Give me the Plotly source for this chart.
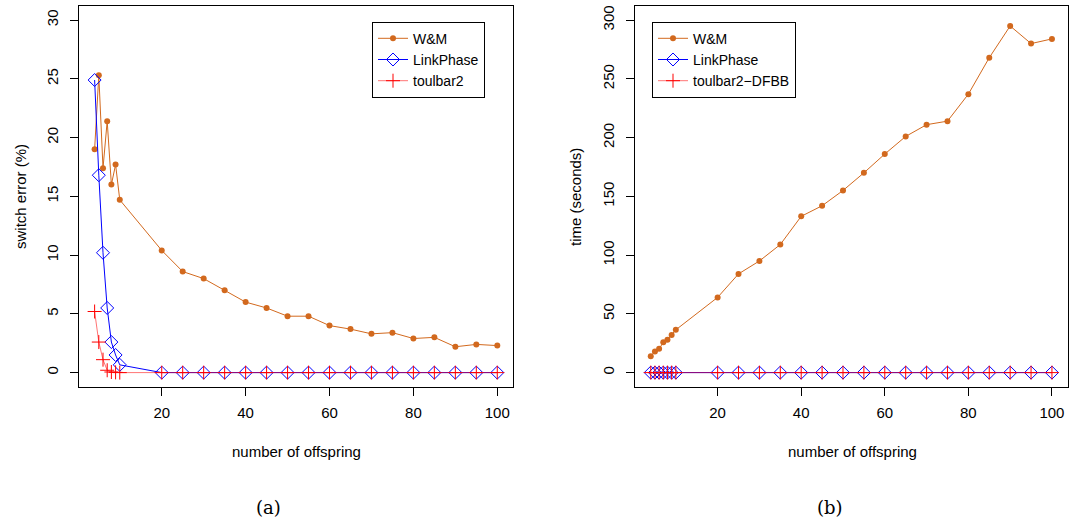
import plotly.graph_objects as go

offspring = [4, 5, 6, 7, 8, 9, 10, 20, 25, 30, 35, 40, 45, 50, 55, 60, 65, 70, 75, 80, 85, 90, 95, 100]

# (a) switch error (%)
err_wm = [19.0, 25.3, 17.4, 21.4, 16.0, 17.7, 14.7, 10.4, 8.6, 8.0, 7.0, 6.0, 5.5, 4.8, 4.8, 4.0, 3.7, 3.3, 3.4, 2.9, 3.0, 2.2, 2.4, 2.3]
err_lp = [24.9, 16.8, 10.2, 5.5, 2.6, 1.5, 0.66, 0, 0, 0, 0, 0, 0, 0, 0, 0, 0, 0, 0, 0, 0, 0, 0, 0]
err_tb = [5.2, 2.6, 1.1, 0.2, 0.05, 0.02, 0, 0, 0, 0, 0, 0, 0, 0, 0, 0, 0, 0, 0, 0, 0, 0, 0, 0]

# (b) time (seconds)
time_wm = [14.0, 18.0, 20.2, 25.8, 27.9, 32.1, 36.4, 64, 84, 95, 109, 133, 142, 155, 170, 186, 201, 211, 214, 237, 268, 295, 280, 284]
time_lp = [0] * len(offspring)
time_tb = [0] * len(offspring)

names_a = ["W&M", "LinkPhase", "toulbar2"]
names_b = ["W&M", "LinkPhase", "toulbar2\u2212DFBB"]

W, H = 1070, 523
ORANGE = "#D2691E"
BLUE = "#0000FF"
RED = "#FF0000"
FONT = "Liberation Sans, Arial, sans-serif"
FS = 15

fig = go.Figure()

def add_series(xa, ya, leg, names, wm, lp, tb):
    fig.add_trace(go.Scatter(x=offspring, y=wm, name=names[0], mode="lines+markers",
                             line=dict(color=ORANGE, width=1),
                             marker=dict(symbol="circle", size=6, color=ORANGE),
                             xaxis=xa, yaxis=ya, legend=leg))
    fig.add_trace(go.Scatter(x=offspring, y=lp, name=names[1], mode="lines+markers",
                             line=dict(color=BLUE, width=1),
                             marker=dict(symbol="diamond-open", size=10, color=BLUE,
                                         line=dict(width=1, color=BLUE)),
                             xaxis=xa, yaxis=ya, legend=leg))
    fig.add_trace(go.Scatter(x=offspring, y=tb, name=names[2], mode="lines+markers",
                             line=dict(color="rgba(255,0,0,0.55)", width=1),
                             marker=dict(symbol="cross-thin", size=10, color=RED,
                                         line=dict(width=1, color=RED)),
                             xaxis=xa, yaxis=ya, legend=leg))

add_series("x", "y", "legend", names_a, err_wm, err_lp, err_tb)
add_series("x2", "y2", "legend2", names_b, time_wm, time_lp, time_tb)

ytop = 1 - 6 / H
ybot = 1 - 386.7 / H

axis_common = dict(showline=True, mirror=True, linecolor="black", linewidth=1,
                   ticks="outside", ticklen=8, tickcolor="black", tickwidth=1,
                   showgrid=False, zeroline=False,
                   tickfont=dict(family=FONT, size=FS, color="black"))

fig.update_layout(
    width=W, height=H,
    margin=dict(l=0, r=0, t=0, b=0),
    paper_bgcolor="white", plot_bgcolor="white",
    font=dict(family=FONT, size=FS, color="black"),
    xaxis=dict(domain=[78.5 / W, 513.4 / W], range=[0.16, 103.84],
               tickvals=[20, 40, 60, 80, 100], anchor="y", ticklabelstandoff=4, **axis_common),
    yaxis=dict(domain=[ybot, ytop], range=[-1.2, 31.2],
               tickvals=[0, 5, 10, 15, 20, 25, 30], tickangle=-90, anchor="x",
               ticklabelstandoff=6, **axis_common),
    xaxis2=dict(domain=[634.7 / W, 1068 / W], range=[0.16, 103.84],
                tickvals=[20, 40, 60, 80, 100], anchor="y2", ticklabelstandoff=4, **axis_common),
    yaxis2=dict(domain=[ybot, ytop], range=[-12, 312],
                tickvals=[0, 50, 100, 150, 200, 250, 300], tickangle=-90, anchor="x2",
                ticklabelstandoff=6, **axis_common),
    legend=dict(x=372 / W, y=1 - 21.7 / H, xanchor="left", yanchor="top",
                bordercolor="black", borderwidth=1, bgcolor="white",
                font=dict(family=FONT, size=14), tracegroupgap=0),
    legend2=dict(x=652 / W, y=1 - 21.7 / H, xanchor="left", yanchor="top",
                 bordercolor="black", borderwidth=1, bgcolor="white",
                 font=dict(family=FONT, size=14), tracegroupgap=0),
)

annots = [
    dict(text="number of offspring", x=296 / W, y=1 - 451 / H),
    dict(text="number of offspring", x=852 / W, y=1 - 451 / H),
    dict(text="switch error (%)", x=20 / W, y=1 - 197 / H, textangle=-90),
    dict(text="time (seconds)", x=575 / W, y=1 - 197 / H, textangle=-90),
]
for a in annots:
    fig.add_annotation(xref="paper", yref="paper", showarrow=False,
                       xanchor="center", yanchor="middle",
                       font=dict(family=FONT, size=FS, color="black"), **a)

for lbl, xc in [("(a)", 268), ("(b)", 830)]:
    fig.add_annotation(xref="paper", yref="paper", showarrow=False, text=lbl,
                       x=xc / W, y=1 - 507 / H, xanchor="center", yanchor="middle",
                       font=dict(family="DejaVu Serif, Liberation Serif, serif", size=18, color="black"))

fig.write_html("out.html", config={"displayModeBar": False},
               post_script="document.body.style.margin='0';")
